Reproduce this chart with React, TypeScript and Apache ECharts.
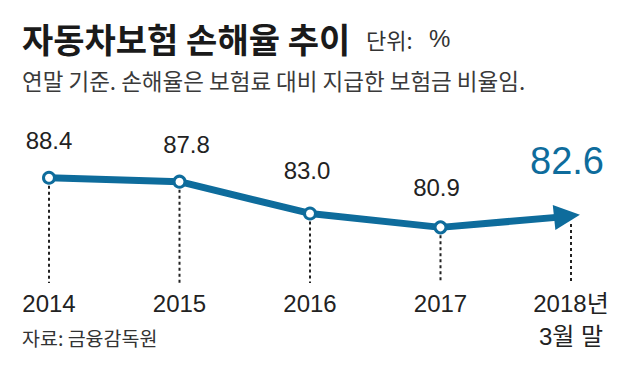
import React, { useEffect, useRef } from "react";
import * as echarts from "echarts";

const categories = ["2014", "2015", "2016", "2017", "2018년\n3월 말"];
const lossRatio = [88.4, 87.8, 83.0, 80.9, 82.6];
const titleText = "자동차보험 손해율 추이";
const unitLabel = "단위:";
const unitSign = "%";
const subtitleText = "연말 기준. 손해율은 보험료 대비 지급한 보험금 비율임.";
const sourceText = "자료: 금융감독원";

const BLUE = "#0e6c9c";
const DARK = "#222222";
const Y_MIN = 72.5;
const Y_MAX = 95;
const NUM_FONT = "'Liberation Sans', Arial, 'Noto Sans CJK KR', sans-serif";
const KR_FONT = "'Noto Sans CJK KR', 'Liberation Sans', sans-serif";

// label tweak per point (style only)
const labelOffsets: number[][] = [
  [0, 0],
  [7, 0],
  [-3, -6],
  [-4, -3],
  [0, 0],
];

export default function App() {
  const ref = useRef<HTMLDivElement>(null);
  useEffect(() => {
    if (!ref.current) return;
    const chart = echarts.init(ref.current, undefined, { renderer: "svg" });
    const last = lossRatio.length - 1;
    const lineData = lossRatio.map((v, i) => {
      if (i === last) {
        return {
          value: v,
          symbol: "path://M0,0L26,12.5L0,25Z",
          symbolSize: [26, 25],
          symbolRotate: 6,
          symbolOffset: [-4, 0],
          itemStyle: { color: BLUE, borderWidth: 0 },
          label: {
            show: true,
            position: "top",
            distance: 22,
            fontSize: 38,
            color: BLUE,
            fontFamily: NUM_FONT,
            offset: labelOffsets[i],
            formatter: (p: any) => Number(p.value).toFixed(1),
          },
        };
      }
      return {
        value: v,
        label: { offset: labelOffsets[i] },
      };
    });

    chart.setOption({
      animation: false,
      backgroundColor: "#ffffff",
      grid: { left: 49, right: 69, top: 134, bottom: 99 },
      xAxis: {
        type: "category",
        data: categories,
        boundaryGap: false,
        axisLine: { show: false },
        axisTick: { show: false },
        splitLine: { show: false },
        axisLabel: {
          margin: 4,
          fontSize: 24,
          lineHeight: 33,
          color: DARK,
          fontFamily: NUM_FONT,
          interval: 0,
        },
      },
      yAxis: {
        type: "value",
        min: Y_MIN,
        max: Y_MAX,
        show: false,
        splitLine: { show: false },
      },
      series: [
        {
          type: "custom",
          z: 1,
          silent: true,
          encode: { x: 0, y: 1 },
          data: lossRatio.map((v, i) => [i, v]),
          renderItem: (params: any, api: any) => {
            const top = api.coord([api.value(0), api.value(1)]);
            const bottom = api.coord([api.value(0), Y_MIN]);
            return {
              type: "line",
              shape: { x1: top[0], y1: top[1] + 8, x2: top[0], y2: bottom[1] },
              style: { stroke: DARK, lineWidth: 2, lineDash: [3, 3] },
            };
          },
        },
        {
          type: "line",
          z: 3,
          data: lineData,
          symbol: "circle",
          symbolSize: 11,
          showAllSymbol: true,
          lineStyle: { color: BLUE, width: 7 },
          itemStyle: { color: "#ffffff", borderColor: BLUE, borderWidth: 3 },
          label: {
            show: true,
            position: "top",
            distance: 18,
            fontSize: 24,
            color: DARK,
            fontFamily: NUM_FONT,
            formatter: (p: any) => Number(p.value).toFixed(1),
          },
        },
      ],
      graphic: [
        {
          type: "text",
          x: 22,
          y: 38,
          style: {
            text: titleText,
            fontSize: 34,
            fontWeight: "bold",
            fontFamily: KR_FONT,
            fill: "#1a1a1a",
            verticalAlign: "middle",
          },
        },
        {
          type: "text",
          x: 366,
          y: 39,
          style: {
            text: unitLabel,
            fontSize: 22,
            fontFamily: KR_FONT,
            fill: "#333333",
            verticalAlign: "middle",
          },
        },
        {
          type: "text",
          x: 429,
          y: 38,
          style: {
            text: unitSign,
            fontSize: 24,
            fontFamily: NUM_FONT,
            fill: "#333333",
            verticalAlign: "middle",
          },
        },
        {
          type: "text",
          x: 22,
          y: 80,
          style: {
            text: subtitleText,
            fontSize: 22.5,
            fontFamily: KR_FONT,
            fill: "#3a3a3a",
            verticalAlign: "middle",
          },
        },
        {
          type: "text",
          x: 22,
          y: 337,
          style: {
            text: sourceText,
            fontSize: 19.5,
            fontFamily: KR_FONT,
            fill: "#333333",
            verticalAlign: "middle",
          },
        },
      ],
    });
    return () => chart.dispose();
  }, []);

  return (
    <div
      ref={ref}
      style={{ position: "absolute", left: 0, top: 0, width: 640, height: 382, background: "#fff" }}
    />
  );
}
